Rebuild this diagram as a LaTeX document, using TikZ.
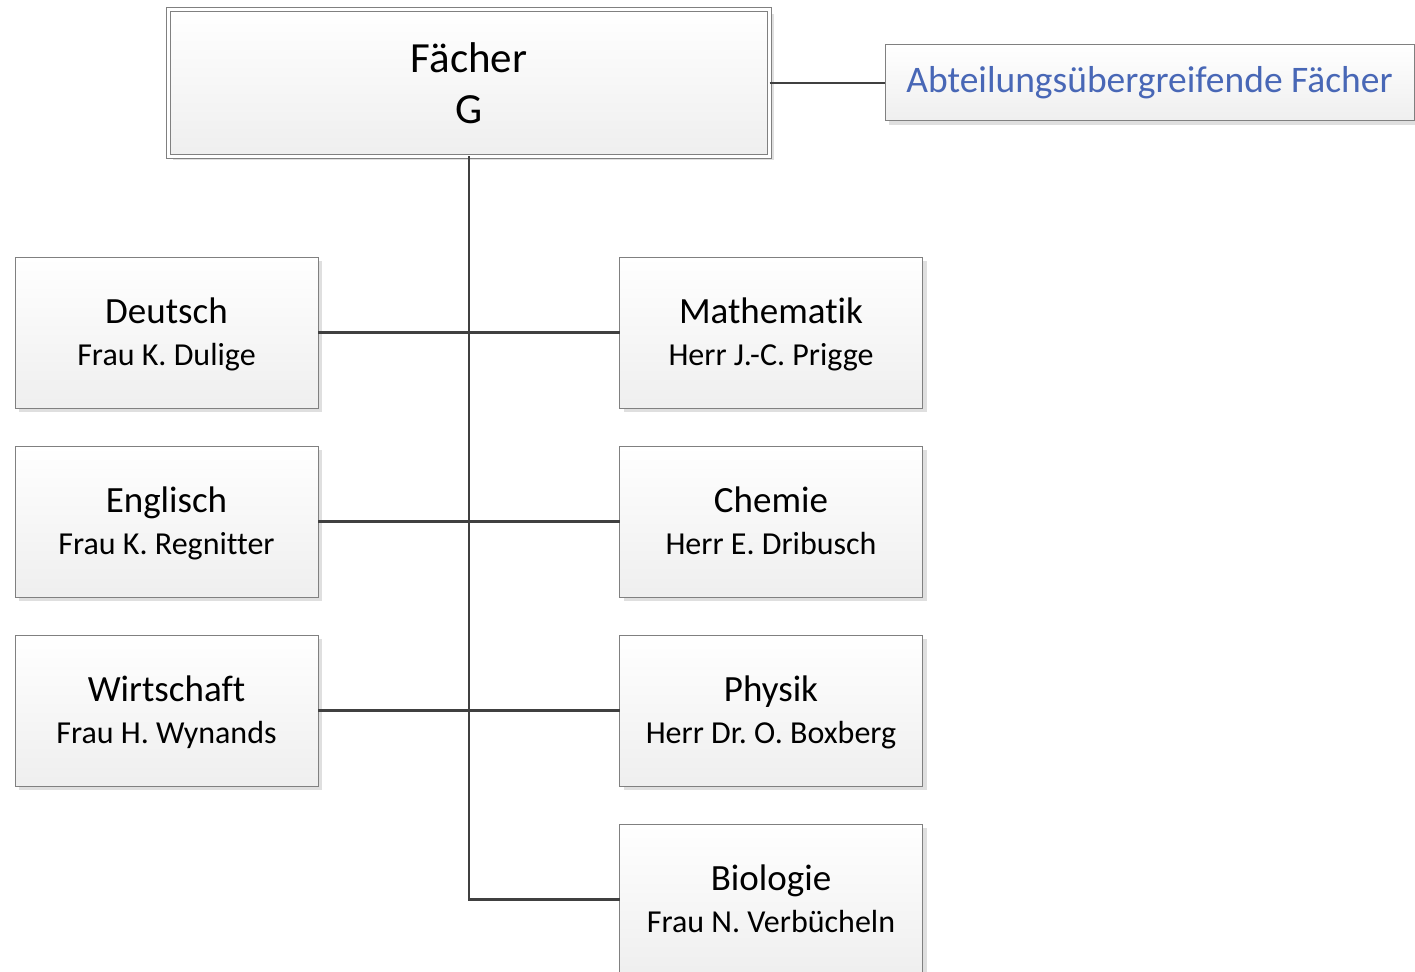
\documentclass[tikz,border=0pt]{standalone}
\usepackage{fontspec}
\setmainfont{Carlito}[Ligatures=NoCommon]
\frenchspacing
\usetikzlibrary{shadows}
\definecolor{rahmen}{RGB}{128,128,128}
\definecolor{linie}{RGB}{64,64,64}
\definecolor{blautext}{RGB}{72,103,182}
\newcommand{\fach}[2]{{\fontsize{37}{42}\selectfont\vphantom{Äg}#1}\\\vphantom{Äg}#2}

\begin{document}
\begin{tikzpicture}[x=1pt, y=-1pt,
 box/.style={rectangle, draw=rahmen, line width=1pt, top color=white, bottom color=gray!13,
  align=center, inner sep=0pt, outer sep=0pt,
  drop shadow={shadow xshift=4pt, shadow yshift=-4pt, fill=gray!25, opacity=1}},
 fachbox/.style={box, minimum width=303pt, minimum height=151pt, font=\fontsize{32}{42}\selectfont},
 verbindung/.style={draw=linie, line width=2.2pt}]

 \useasboundingbox (0,0) rectangle (1415,971);

 \node[box, double=white, double distance=3pt, minimum width=601pt, minimum height=146pt,
  font=\fontsize{43}{51}\selectfont] (faecher) at (469,83) {F\"acher\\G};
 \node[box, minimum width=529pt, minimum height=76pt, text=blautext,
  font=\fontsize{37.5}{42}\selectfont] (abteilung) at (1149.5,83) {Abteilungs\"ubergreifende F\"acher};

 \node[fachbox] (deutsch) at (166.5,332.5) {\fach{Deutsch}{Frau K. Dulige}};
 \node[fachbox] (englisch) at (166.5,521.5) {\fach{Englisch}{Frau K. Regnitter}};
 \node[fachbox] (wirtschaft) at (166.5,710.5) {\fach{Wirtschaft}{Frau H. Wynands}};

 \node[fachbox] (mathe) at (771,332.5) {\fach{Mathematik}{Herr J.-C. Prigge}};
 \node[fachbox] (chemie) at (771,521.5) {\fach{Chemie}{Herr E. Dribusch}};
 \node[fachbox] (physik) at (771,710.5) {\fach{Physik}{Herr Dr. O. Boxberg}};
 \node[fachbox] (bio) at (771,899.5) {\fach{Biologie}{Frau N. Verb\"ucheln}};

 \draw[verbindung] (faecher.east) -- (abteilung.west);
 \draw[verbindung] (deutsch.east) -- (mathe.west);
 \draw[verbindung] (englisch.east) -- (chemie.west);
 \draw[verbindung] (wirtschaft.east) -- (physik.west);
 \draw[verbindung] (faecher.south) |- (bio.west);
\end{tikzpicture}
\end{document}
